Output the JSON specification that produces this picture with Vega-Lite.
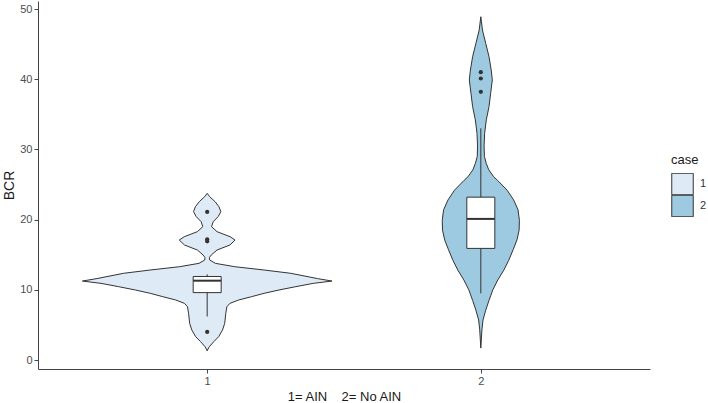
{
  "$schema": "https://vega.github.io/schema/vega-lite/v6.json",
  "autosize": {"type": "none"},
  "padding": {"left": 38, "top": 1, "right": 58, "bottom": 34},
  "width": 612,
  "height": 368,
  "background": "white",
  "config": {
    "font": "Liberation Sans",
    "view": {"stroke": null},
    "axis": {"grid": false, "domainColor": "#444444", "domainWidth": 1, "tickColor": "#444444", "tickSize": 4, "labelColor": "#4d4d4d", "labelFontSize": 11, "titleFontWeight": "normal", "titleColor": "#1a1a1a"}
  },
  "datasets": {
    "violin": [
      {"case": 1, "BCR": 1.3, "dens": 0},
      {"case": 1, "BCR": 1.42, "dens": 0.001},
      {"case": 1, "BCR": 1.9, "dens": 0.008},
      {"case": 1, "BCR": 2.61, "dens": 0.024},
      {"case": 1, "BCR": 3.32, "dens": 0.042},
      {"case": 1, "BCR": 4.27, "dens": 0.056},
      {"case": 1, "BCR": 5.22, "dens": 0.064},
      {"case": 1, "BCR": 6.65, "dens": 0.068},
      {"case": 1, "BCR": 7.6, "dens": 0.072},
      {"case": 1, "BCR": 8.07, "dens": 0.083},
      {"case": 1, "BCR": 8.55, "dens": 0.115},
      {"case": 1, "BCR": 9.02, "dens": 0.162},
      {"case": 1, "BCR": 9.5, "dens": 0.208},
      {"case": 1, "BCR": 9.97, "dens": 0.262},
      {"case": 1, "BCR": 10.45, "dens": 0.324},
      {"case": 1, "BCR": 10.92, "dens": 0.388},
      {"case": 1, "BCR": 11.25, "dens": 0.456},
      {"case": 1, "BCR": 11.6, "dens": 0.403},
      {"case": 1, "BCR": 12.35, "dens": 0.306},
      {"case": 1, "BCR": 12.82, "dens": 0.208},
      {"case": 1, "BCR": 13.29, "dens": 0.101},
      {"case": 1, "BCR": 13.77, "dens": 0.03},
      {"case": 1, "BCR": 14.25, "dens": 0.009},
      {"case": 1, "BCR": 14.6, "dens": 0.008},
      {"case": 1, "BCR": 14.96, "dens": 0.015},
      {"case": 1, "BCR": 15.67, "dens": 0.036},
      {"case": 1, "BCR": 16.38, "dens": 0.083},
      {"case": 1, "BCR": 17.09, "dens": 0.102},
      {"case": 1, "BCR": 17.56, "dens": 0.084},
      {"case": 1, "BCR": 18.28, "dens": 0.036},
      {"case": 1, "BCR": 18.99, "dens": 0.016},
      {"case": 1, "BCR": 19.7, "dens": 0.022},
      {"case": 1, "BCR": 20.42, "dens": 0.04},
      {"case": 1, "BCR": 21.13, "dens": 0.05},
      {"case": 1, "BCR": 21.84, "dens": 0.043},
      {"case": 1, "BCR": 22.55, "dens": 0.029},
      {"case": 1, "BCR": 23.27, "dens": 0.009},
      {"case": 1, "BCR": 23.74, "dens": 0},
      {"case": 2, "BCR": 1.7, "dens": 0},
      {"case": 2, "BCR": 3.0, "dens": 0.002},
      {"case": 2, "BCR": 4.3, "dens": 0.004},
      {"case": 2, "BCR": 5.7, "dens": 0.008},
      {"case": 2, "BCR": 7.1, "dens": 0.018},
      {"case": 2, "BCR": 8.5, "dens": 0.03},
      {"case": 2, "BCR": 10.0, "dens": 0.044},
      {"case": 2, "BCR": 11.4, "dens": 0.062},
      {"case": 2, "BCR": 12.8, "dens": 0.084},
      {"case": 2, "BCR": 14.2, "dens": 0.102},
      {"case": 2, "BCR": 15.7, "dens": 0.118},
      {"case": 2, "BCR": 17.1, "dens": 0.132},
      {"case": 2, "BCR": 18.5, "dens": 0.14},
      {"case": 2, "BCR": 19.9, "dens": 0.141},
      {"case": 2, "BCR": 21.4, "dens": 0.136},
      {"case": 2, "BCR": 22.8, "dens": 0.12},
      {"case": 2, "BCR": 24.2, "dens": 0.096},
      {"case": 2, "BCR": 25.6, "dens": 0.061},
      {"case": 2, "BCR": 26.1, "dens": 0.047},
      {"case": 2, "BCR": 27.1, "dens": 0.029},
      {"case": 2, "BCR": 28.0, "dens": 0.02},
      {"case": 2, "BCR": 29.0, "dens": 0.013},
      {"case": 2, "BCR": 30.5, "dens": 0.012},
      {"case": 2, "BCR": 32.3, "dens": 0.014},
      {"case": 2, "BCR": 34.2, "dens": 0.02},
      {"case": 2, "BCR": 36.1, "dens": 0.03},
      {"case": 2, "BCR": 38.0, "dens": 0.036},
      {"case": 2, "BCR": 39.9, "dens": 0.042},
      {"case": 2, "BCR": 41.3, "dens": 0.038},
      {"case": 2, "BCR": 43.2, "dens": 0.03},
      {"case": 2, "BCR": 45.1, "dens": 0.018},
      {"case": 2, "BCR": 47.0, "dens": 0.006},
      {"case": 2, "BCR": 48.9, "dens": 0}
    ],
    "box": [
      {"case": 1, "lower": 6.2, "q1": 9.6, "median": 11.3, "q3": 11.9, "upper": 12.2},
      {"case": 2, "lower": 9.5, "q1": 15.9, "median": 20.1, "q3": 23.2, "upper": 33.0}
    ],
    "outliers": [
      {"case": 1, "BCR": 21.1},
      {"case": 1, "BCR": 17.2},
      {"case": 1, "BCR": 16.9},
      {"case": 1, "BCR": 4.0},
      {"case": 2, "BCR": 41.0},
      {"case": 2, "BCR": 40.1},
      {"case": 2, "BCR": 38.2}
    ]
  },
  "layer": [
    {
      "data": {"name": "violin"},
      "transform": [
        {"calculate": "datum.case - datum.dens", "as": "lo"},
        {"calculate": "datum.case + datum.dens", "as": "hi"}
      ],
      "mark": {"type": "area", "orient": "horizontal", "stroke": "#333333", "strokeWidth": 1, "opacity": 1, "fillOpacity": 1},
      "encoding": {
        "y": {"field": "BCR", "type": "quantitative", "scale": {"domain": [-1.28, 51.14], "nice": false, "zero": false},
              "axis": {"values": [0, 10, 20, 30, 40, 50], "title": "BCR", "titleFontSize": 14, "titlePadding": 3, "labelPadding": 2}},
        "x": {"field": "lo", "type": "quantitative", "stack": null, "scale": {"domain": [0.4, 2.6], "nice": false, "zero": false},
              "axis": {"values": [1, 2], "format": "d", "title": "1= AIN\u00a0\u00a0\u00a0\u00a02= No AIN", "titleFontSize": 13, "labelPadding": 2, "titlePadding": 4}},
        "x2": {"field": "hi"},
        "color": {"field": "case", "type": "nominal", "scale": {"domain": [1, 2], "range": ["#DEEBF7", "#9ECAE1"]},
                  "legend": {"orient": "none", "legendX": 633, "legendY": 153, "title": "case", "titleFontSize": 13, "titleFontWeight": "normal", "titleColor": "#1a1a1a", "titlePadding": 6, "labelFontSize": 11, "labelColor": "#333333", "labelOffset": 6, "symbolType": "square", "symbolSize": 462, "symbolStrokeColor": "#333333", "symbolStrokeWidth": 1, "symbolOpacity": 1, "rowPadding": 0, "clipHeight": 22}}
      }
    },
    {
      "data": {"name": "box"},
      "mark": {"type": "rule", "color": "#333333", "strokeWidth": 1},
      "encoding": {
        "x": {"field": "case", "type": "quantitative"},
        "y": {"field": "lower", "type": "quantitative"},
        "y2": {"field": "upper"}
      }
    },
    {
      "data": {"name": "box"},
      "mark": {"type": "bar", "size": 28, "fill": "white", "stroke": "#333333", "strokeWidth": 1},
      "encoding": {
        "x": {"field": "case", "type": "quantitative"},
        "y": {"field": "q1", "type": "quantitative"},
        "y2": {"field": "q3"}
      }
    },
    {
      "data": {"name": "box"},
      "mark": {"type": "tick", "orient": "horizontal", "size": 28, "thickness": 2, "color": "#333333", "opacity": 1},
      "encoding": {
        "x": {"field": "case", "type": "quantitative"},
        "y": {"field": "median", "type": "quantitative"}
      }
    },
    {
      "data": {"name": "outliers"},
      "mark": {"type": "circle", "size": 18, "color": "#333333", "opacity": 1},
      "encoding": {
        "x": {"field": "case", "type": "quantitative"},
        "y": {"field": "BCR", "type": "quantitative"}
      }
    }
  ]
}
